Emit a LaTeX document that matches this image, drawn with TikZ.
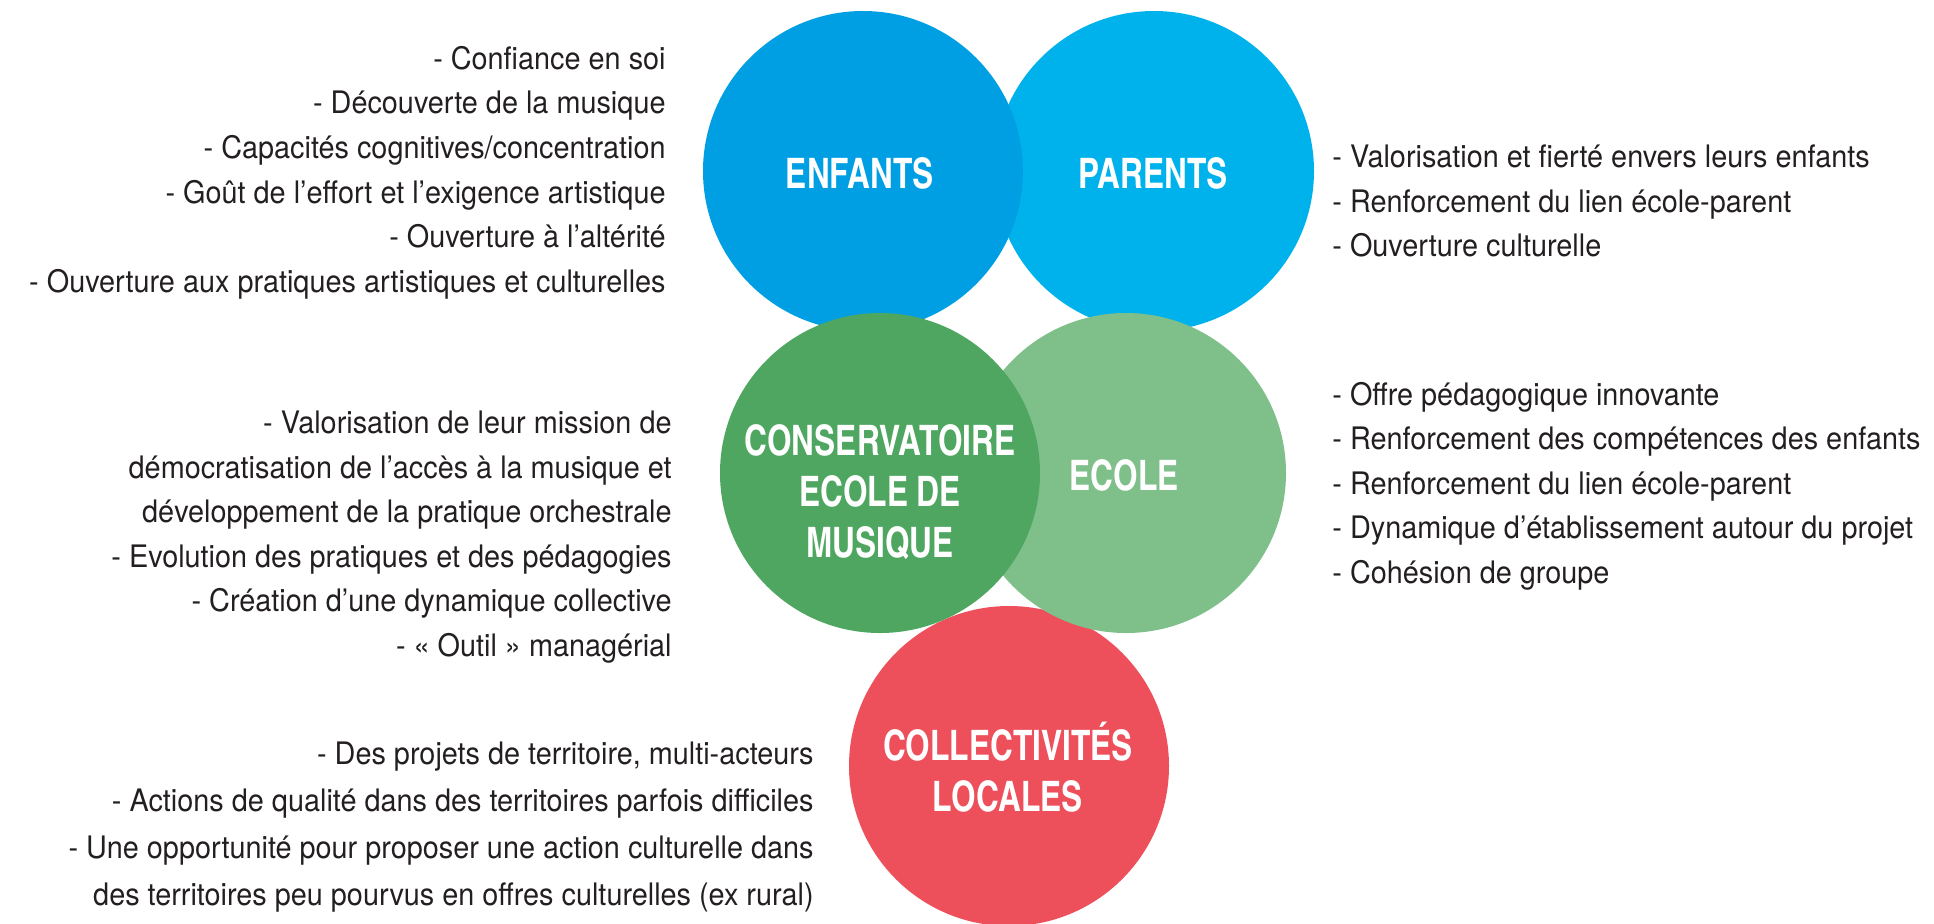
\documentclass[tikz,border=0pt]{standalone}
\usepackage{fontspec}
\setmainfont{texgyreheros}[Extension=.otf, UprightFont=*-regular, UprightFeatures={FakeStretch=0.93}, BoldFont=texgyreheroscn-bold, BoldFeatures={FakeStretch=0.92}]
\usepackage{tikz}
\usetikzlibrary{positioning}
\usepackage{xcolor}

\definecolor{cEnfants}{RGB}{0,159,227}
\definecolor{cParents}{RGB}{0,178,236}
\definecolor{cConserv}{RGB}{78,166,96}
\definecolor{cEcole}{RGB}{127,191,138}
\definecolor{cCollect}{RGB}{237,79,91}
\definecolor{cTexte}{RGB}{35,31,32}

\begin{document}
\begin{tikzpicture}[x=0.5pt,y=-0.5pt,
    bulle/.style={circle, minimum size=160pt, inner sep=0pt},
    titre/.style={text=white, font=\bfseries\fontsize{21}{25.5}\selectfont, align=center, inner sep=0pt},
    listeG/.style={anchor=east, align=right, text=cTexte, inner sep=0pt, font=\fontsize{15.5}{22.3}\selectfont},
    listeD/.style={anchor=west, align=left, text=cTexte, inner sep=0pt, font=\fontsize{15.5}{22.3}\selectfont}]
	\useasboundingbox (0,0) rectangle (1934,923);
	% cercles
	\node[bulle, fill=cParents] (parents) at (1154,171) {};
	\node[bulle, fill=cEnfants] (enfants) at (863,171) {};
	\node[bulle, fill=cCollect] (collect) at (1009,766) {};
	\node[bulle, fill=cEcole] (ecole) at (1126,473) {};
	\node[bulle, fill=cConserv] (conserv) at (880,473) {};
	% titres
	\node[titre] (tEnfants) at (860,173) {ENFANTS};
	\node[titre] (tParents) at (1153,173) {PARENTS};
	\node[titre] (tConserv) at (880,492) {CONSERVATOIRE\\ECOLE DE\\MUSIQUE};
	\node[titre] (tEcole) at (1124,475) {ECOLE};
	\node[titre] (tCollect) at (1008,767) {COLLECTIVITÉS\\LOCALES};
	% listes
	\node[listeG] (lEnfants) at (666,172.5) {- Confiance en soi\\- Découverte de la musique\\- Capacités cognitives/concentration\\- Goût de l’effort et l’exigence artistique\\- Ouverture à l’altérité\\- Ouverture aux pratiques artistiques et culturelles};
	\node[listeD] (lParents) at (1332,201) {- Valorisation et fierté envers leurs enfants\\- Renforcement du lien école-parent\\- Ouverture culturelle};
	\node[listeG] (lConserv) at (672,537) {- Valorisation de leur mission de\\démocratisation de l’accès à la musique et\\développement de la pratique orchestrale\\- Evolution des pratiques et des pédagogies\\- Création d’une dynamique collective\\- « Outil » managérial};
	\node[listeD] (lEcole) at (1332,486) {- Offre pédagogique innovante\\- Renforcement des compétences des enfants\\- Renforcement du lien école-parent\\- Dynamique d’établissement autour du projet\\- Cohésion de groupe};
	\node[listeG, font=\fontsize{15.5}{23.6}\selectfont] (lCollect) at (814,827) {- Des projets de territoire, multi-acteurs\\- Actions de qualité dans des territoires parfois difficiles\\- Une opportunité pour proposer une action culturelle dans\\des territoires peu pourvus en offres culturelles (ex rural)};
\end{tikzpicture}
\end{document}
